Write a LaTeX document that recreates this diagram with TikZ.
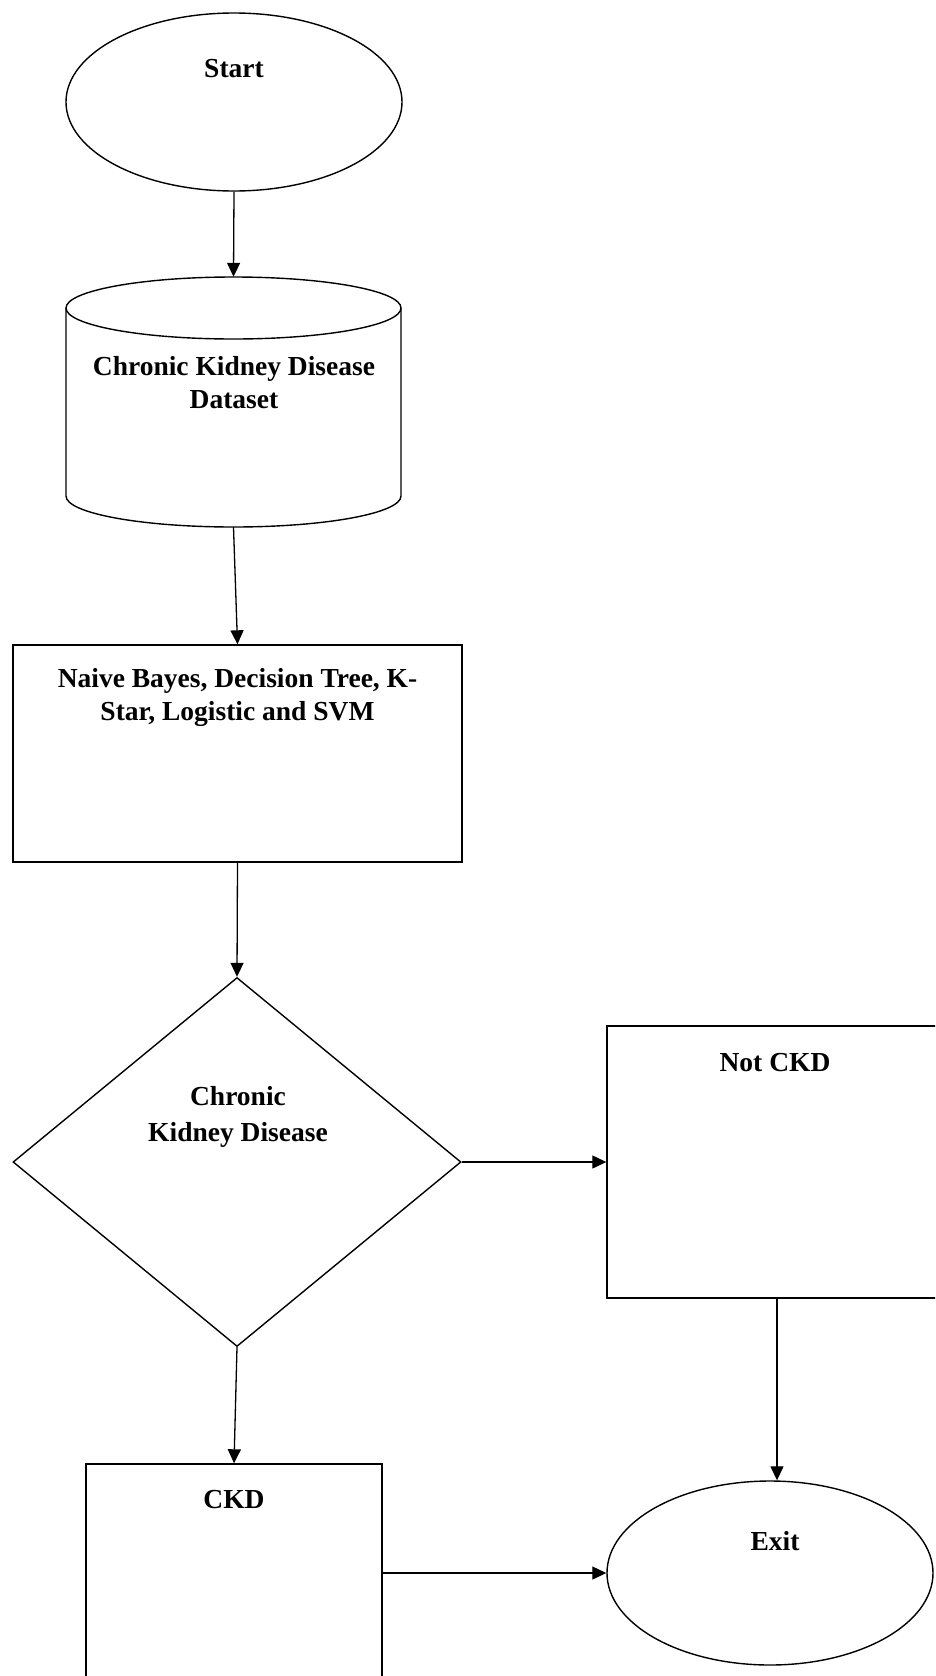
\documentclass[tikz,border=0pt]{standalone}
\usepackage{fontspec}
\setmainfont{Liberation Serif}
\usetikzlibrary{shapes.geometric,arrows.meta}
\begin{document}
\begin{tikzpicture}[x=1pt,y=-1pt,
  shapeline/.style={draw=black,line width=1.4pt,inner sep=0pt},
  conn/.style={line width=1.3pt,-{Triangle[length=14pt,width=13pt]}},
  txt/.style={font=\bfseries\fontsize{27.5}{33}\selectfont,align=center,inner sep=0pt}]
\useasboundingbox (0,0) rectangle (935,1676);
\clip (0,0) rectangle (935,1676);
% shapes
\node[shapeline,ellipse,minimum width=336pt,minimum height=178pt] (start) at (234,102) {};
\node[inner sep=0pt,minimum width=335pt,minimum height=250pt] (data) at (233.5,402) {};
\draw[line width=1.4pt] (233.5,308) ellipse [x radius=167.5pt,y radius=31pt];
\draw[line width=1.4pt] (66,308) -- (66,496) arc[start angle=180,end angle=360,x radius=167.5pt,y radius=31pt] -- (401,308);
\node[shapeline,rectangle,minimum width=449pt,minimum height=217pt] (algo) at (237.5,753.5) {};
\node[shapeline,diamond,minimum width=448pt,minimum height=369pt] (dec) at (237,1162) {};
\node[shapeline,rectangle,minimum width=340pt,minimum height=272pt] (notckd) at (777,1162) {};
\node[shapeline,ellipse,minimum width=326pt,minimum height=184pt] (exit) at (770,1573) {};
\node[shapeline,rectangle,minimum width=296pt,minimum height=300pt] (ckd) at (234,1614) {};
% texts
\node[txt] (tstart) at (234,69) {Start};
\node[txt] (tdata) at (234,382.5) {Chronic Kidney Disease\\Dataset};
\node[txt] (talgo) at (237.5,697.5) {Naive Bayes, Decision Tree, K-\\Star, Logistic and SVM};
\node[txt,font=\bfseries\fontsize{27.5}{36}\selectfont] (tdec) at (238,1117) {Chronic\\Kidney Disease};
\node[txt] (tnot) at (775,1063) {Not CKD};
\node[txt] (tckd) at (234,1500) {CKD};
\node[txt] (texit) at (775,1541) {Exit};
% connectors
\draw[conn] (start.south) -- (data.north);
\draw[conn] (data.south) -- (algo.north);
\draw[conn] (algo.south) -- (dec.north);
\draw[conn] (dec.east) -- (notckd.west);
\draw[conn] (notckd.south) -- (notckd.south |- exit.north);
\draw[conn] (dec.south) -- (ckd.north);
\draw[conn] (ckd.east |- exit.west) -- (exit.west);
\end{tikzpicture}
\end{document}
